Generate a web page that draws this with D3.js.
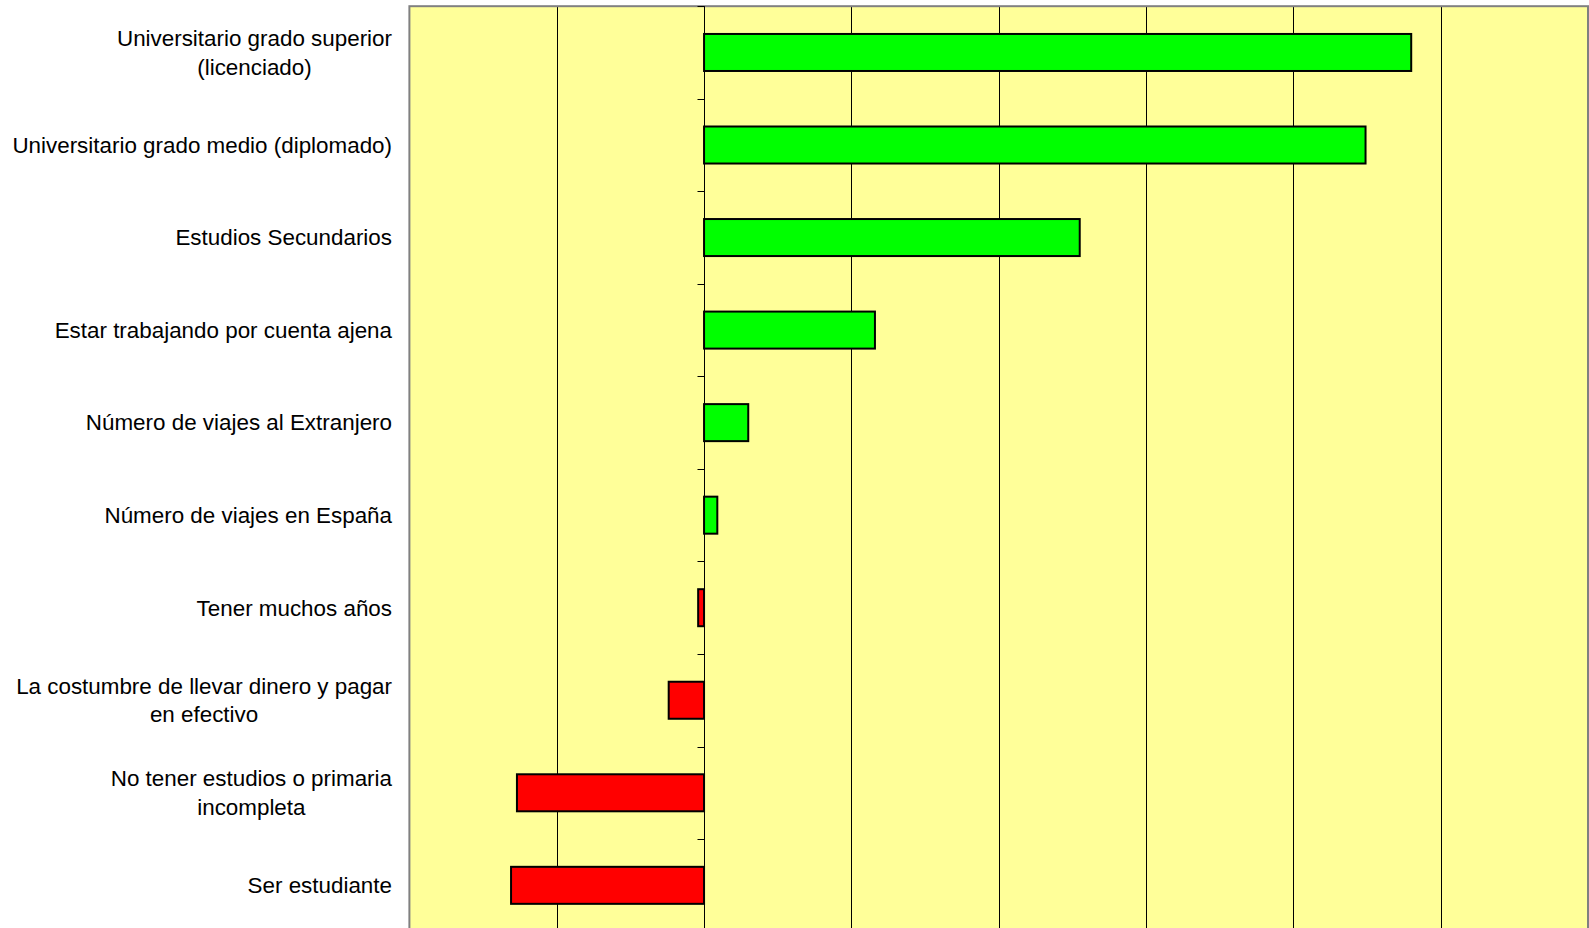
<!DOCTYPE html>
<html>
<head>
<meta charset="utf-8">
<script src="https://cdn.jsdelivr.net/npm/d3@7"></script>
<style>
  html, body { margin: 0; padding: 0; background: #ffffff; }
  svg { display: block; }
</style>
</head>
<body>
<svg id="chart" width="1589" height="928"></svg>
<script>
// Factors and their effect, top to bottom
const categories = [
  "Universitario grado superior\n(licenciado)",
  "Universitario grado medio (diplomado)",
  "Estudios Secundarios",
  "Estar trabajando por cuenta ajena",
  "Número de viajes al Extranjero",
  "Número de viajes en España",
  "Tener muchos años",
  "La costumbre de llevar dinero y pagar\nen efectivo",
  "No tener estudios o primaria\nincompleta",
  "Ser estudiante"
];
const values = [4.80, 4.49, 2.55, 1.16, 0.30, 0.09, -0.04, -0.24, -1.27, -1.31];
const xDomain = [-2, 6];
const xTicks = [-2, -1, 0, 1, 2, 3, 4, 5, 6];

const svg = d3.select("#chart");
const plot = { left: 409.4, right: 1588, top: 6.2, bottom: 931.6 };

const x = d3.scaleLinear().domain(xDomain).range([plot.left, plot.right]);
const y = d3.scaleBand()
  .domain(categories)
  .range([plot.top, plot.bottom])
  .paddingInner(0.6)
  .paddingOuter(0.3);

// plot background
svg.append("rect")
  .attr("x", plot.left).attr("y", plot.top)
  .attr("width", plot.right - plot.left)
  .attr("height", plot.bottom - plot.top)
  .attr("fill", "#ffff99");

// vertical gridlines
svg.append("g")
  .selectAll("line")
  .data(xTicks.slice(1, -1).filter(d => d !== 0))
  .join("line")
  .attr("x1", d => Math.round(x(d)) + 0.5).attr("x2", d => Math.round(x(d)) + 0.5)
  .attr("y1", plot.top).attr("y2", plot.bottom)
  .attr("stroke", "#000000").attr("stroke-width", 1);

// plot border
svg.append("rect")
  .attr("x", plot.left).attr("y", plot.top)
  .attr("width", plot.right - plot.left)
  .attr("height", plot.bottom - plot.top)
  .attr("fill", "none")
  .attr("stroke", "#808080").attr("stroke-width", 2);

// bars
svg.append("g")
  .selectAll("rect")
  .data(values)
  .join("rect")
  .attr("x", d => x(Math.min(0, d)))
  .attr("width", d => Math.abs(x(d) - x(0)))
  .attr("y", (d, i) => y(categories[i]))
  .attr("height", y.bandwidth())
  .attr("fill", d => d >= 0 ? "#00ff00" : "#ff0000")
  .attr("stroke", "#000000").attr("stroke-width", 2);

// category axis at zero, with ticks on band boundaries
const zx = Math.round(x(0)) + 0.5;
svg.append("line")
  .attr("x1", zx).attr("x2", zx)
  .attr("y1", plot.top).attr("y2", plot.bottom)
  .attr("stroke", "#000000").attr("stroke-width", 1);

const boundaries = d3.range(categories.length + 1).map(i => plot.top + i * (plot.bottom - plot.top) / categories.length);
svg.append("g")
  .selectAll("line")
  .data(boundaries)
  .join("line")
  .attr("x1", zx - 7).attr("x2", zx)
  .attr("y1", d => Math.round(d) + 0.5).attr("y2", d => Math.round(d) + 0.5)
  .attr("stroke", "#000000").attr("stroke-width", 1);

// category labels, right edge at the label column, lines centred on each other
const labelRight = 392;
const fontSize = 22.4;
const lineH = 28.4;
const labels = svg.append("g")
  .attr("font-family", "Liberation Sans, Arial, sans-serif")
  .attr("font-size", fontSize)
  .attr("fill", "#000000");

categories.forEach((cat, i) => {
  const lines = cat.split("\n");
  const cy = y(cat) + y.bandwidth() / 2;
  const t = labels.append("text").attr("text-anchor", "middle");
  lines.forEach((ln, k) => {
    t.append("tspan")
      .attr("y", cy + (k - (lines.length - 1) / 2) * lineH)
      .attr("dy", "0.35em")
      .text(ln);
  });
  const tspans = t.selectAll("tspan").nodes();
  const maxW = d3.max(tspans, n => n.getComputedTextLength());
  t.selectAll("tspan").attr("x", labelRight - maxW / 2);
});
</script>
</body>
</html>
